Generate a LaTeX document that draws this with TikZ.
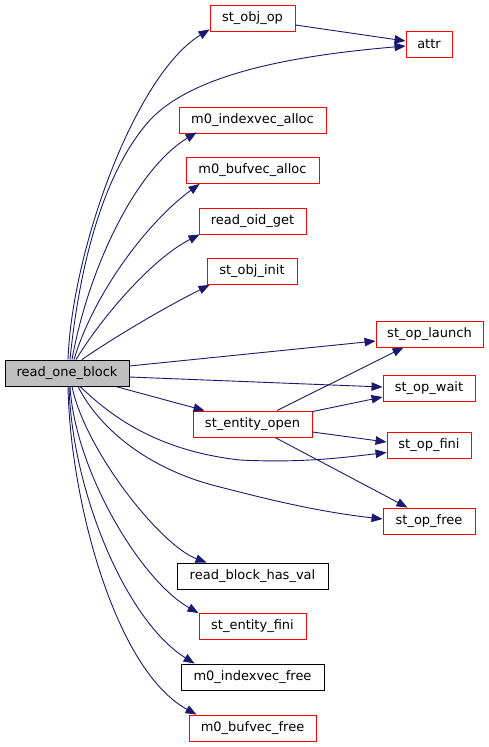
\documentclass[tikz,border=0pt]{standalone}
\usepackage{fontspec}
\setmainfont{DejaVu Sans}
\usetikzlibrary{arrows.meta,calc}
\definecolor{edgeblue}{HTML}{191970}
\definecolor{nodegray}{HTML}{BFBFBF}
\tikzset{
  fn/.style={draw=red, line width=0.9pt, minimum height=26pt, inner sep=0pt, anchor=center, font=\fontsize{13}{15}\selectfont, text=black},
  fnblack/.style={fn, draw=black},
  fnmain/.style={fn, draw=black, fill=nodegray},
  call/.style={draw=edgeblue, line width=0.9pt, -{Triangle[length=11pt,width=8.5pt]}},
}
\begin{document}
\begin{tikzpicture}[x=1pt,y=-1pt]
\useasboundingbox (0,0) rectangle (488,747);
\fill[white] (0,0) rectangle (488,747);
% nodes
\node[fnmain, minimum width=124pt] (rob) at (67,373) {read\_one\_block};
\node[fn, minimum width=85pt] (soo) at (252.5,18) {st\_obj\_op};
\node[fn, minimum width=46pt] (attr) at (429,44) {attr};
\node[fn, minimum width=147pt] (m0ia) at (252.5,120) {m0\_indexvec\_alloc};
\node[fn, minimum width=133pt] (m0ba) at (252.5,170.5) {m0\_bufvec\_alloc};
\node[fn, minimum width=107pt] (rog) at (252.5,221) {read\_oid\_get};
\node[fn, minimum width=90pt] (soi) at (252,271.5) {st\_obj\_init};
\node[fn, minimum width=107pt] (sol) at (429.5,334) {st\_op\_launch};
\node[fn, minimum width=92pt] (sow) at (429,388) {st\_op\_wait};
\node[fn, minimum width=119pt] (seo) at (252.5,424) {st\_entity\_open};
\node[fn, minimum width=84pt] (sof) at (429,445.5) {st\_op\_fini};
\node[fn, minimum width=92pt] (sofr) at (429,521) {st\_op\_free};
\node[fnblack, minimum width=151pt] (rbhv) at (252.5,576) {read\_block\_has\_val};
\node[fn, minimum width=107pt] (sef) at (252.5,626.5) {st\_entity\_fini};
\node[fnblack, minimum width=143pt] (m0if) at (252.5,677) {m0\_indexvec\_free};
\node[fn, minimum width=127pt] (m0bf) at (252.5,728) {m0\_bufvec\_free};
% edges from read_one_block (upwards)
\draw[call] ($(rob.north)+(1,0)$) .. controls (72,250) and (135,75) .. ($(soo.south west)+(0,-2)$);
\draw[call] ($(rob.north)+(3,0)$) .. controls (80,260) and (105,170) .. (150,120)
   .. controls (195,72) and (300,55) .. ($(attr.west)+(0,2)$);
\draw[call] ($(rob.north)+(5,0)$) .. controls (88,270) and (135,170) .. ($(m0ia.south west)+(18,-1)$);
\draw[call] ($(rob.north)+(7,0)$) .. controls (95,290) and (150,220) .. ($(m0ba.south west)+(14,0)$);
\draw[call] ($(rob.north)+(9,0)$) .. controls (100,320) and (150,260) .. ($(rog.south west)+(1,0)$);
\draw[call] ($(rob.north)+(15,0)$) .. controls (110,340) and (160,310) .. ($(soi.south west)+(3,0)$);
% straight-ish
\draw[call] ($(rob.east)+(0,-7)$) -- ($(sol.west)+(0,7)$);
\draw[call] ($(rob.east)+(0,4)$) -- ($(sow.west)+(0,-1)$);
\draw[call] ($(rob.south east)+(-14,0)$) -- ($(seo.north west)+(12,0)$);
% downwards
\draw[call] ($(rob.south)+(13,0)$) .. controls (105,410) and (150,450) .. (240,460)
   .. controls (300,463) and (340,458) .. ($(sof.west)+(0,7)$);
\draw[call] ($(rob.south)+(11,0)$) .. controls (100,430) and (150,470) .. (220,487)
   .. controls (270,500) and (320,512) .. ($(sofr.west)+(0,-2)$);
\draw[call] ($(rob.south)+(5,0)$) .. controls (85,450) and (160,545) .. ($(rbhv.north west)+(30,0)$);
\draw[call] ($(rob.south)+(3,0)$) .. controls (75,470) and (140,580) .. (sef.north west);
\draw[call] ($(rob.south)+(2,0)$) .. controls (72,490) and (125,620) .. ($(m0if.north west)+(14,0)$);
\draw[call] ($(rob.south)+(1,0)$) .. controls (70,500) and (115,670) .. ($(m0bf.north west)+(8,0)$);
% from st_entity_open
\draw[call] ($(seo.north)+(24.5,0)$) -- ($(sol.south west)+(28,0)$);
\draw[call] ($(seo.north east)+(0,1)$) -- ($(sow.west)+(0,9)$);
\draw[call] ($(seo.east)+(0,8)$) -- ($(sof.west)+(0,-3.5)$);
\draw[call] ($(seo.south)+(22.5,0)$) -- ($(sofr.north west)+(25,0)$);
% from st_obj_op
\draw[call] ($(soo.east)+(0,7)$) -- ($(attr.west)+(0,-3)$);
\end{tikzpicture}
\end{document}
